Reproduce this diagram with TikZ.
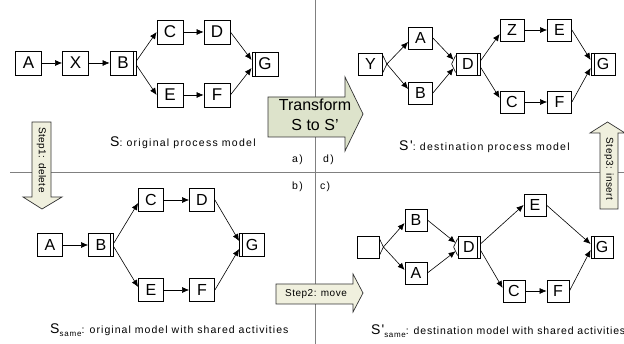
\documentclass[tikz,border=0pt]{standalone}
\usepackage{fontspec}
\setmainfont{Liberation Sans}
\newfontfamily\spacedfont[LetterSpace=12]{Liberation Sans}
\newfontfamily\midspacedfont[LetterSpace=10]{Liberation Sans}
\newfontfamily\tightspacedfont[LetterSpace=8]{Liberation Sans}
\newfontfamily\stepfont[LetterSpace=5]{Liberation Sans}
\usetikzlibrary{arrows.meta,calc}
\definecolor{tfill}{RGB}{221,227,203}
\definecolor{sfill}{RGB}{240,240,222}
\definecolor{sepgray}{RGB}{128,128,128}
\begin{document}
\begin{tikzpicture}[x=1pt,y=-1pt,
  act/.style={draw=black,line width=0.8pt,fill=white,inner sep=0pt,font=\fontsize{16}{16}\selectfont},
  tl/.style={act,minimum width=26pt,minimum height=24pt,font=\fontsize{17}{17}\selectfont},
  tr/.style={act,minimum width=24pt,minimum height=22pt},
  bl/.style={act,minimum width=25pt,minimum height=23pt},
  br/.style={act,minimum width=22pt,minimum height=22pt},
  andsplit/.style={path picture={\draw[line width=0.6pt] ([xshift=-3pt]path picture bounding box.north east) -- ([xshift=-3pt]path picture bounding box.south east);}},
  andjoin/.style={path picture={\draw[line width=0.6pt] ([xshift=3pt]path picture bounding box.north west) -- ([xshift=3pt]path picture bounding box.south west);}},
  conn/.style={-{Latex[length=7pt,width=6pt]},line width=0.6pt},
  chev/.style={line width=0.6pt},
  sep/.style={draw=sepgray,line width=0.8pt},
  bigarrow/.style={draw=black!80,line width=0.7pt},
  lbl/.style={inner sep=0pt,anchor=base west,font=\spacedfont\fontsize{10.5}{12}\selectfont},
  lblmid/.style={lbl,font=\midspacedfont\fontsize{10.5}{12}\selectfont},
  lbltight/.style={lbl,font=\tightspacedfont\fontsize{10.5}{12}\selectfont},
  steptext/.style={inner sep=0pt,font=\stepfont\fontsize{10}{12}\selectfont},
]
\useasboundingbox (0,0) rectangle (624,344);
% separators
\coordinate (vtop) at (315,0);
\coordinate (vbot) at (315,344);
\coordinate (hl) at (10,172);
\coordinate (hr) at (624,172);
\draw[sep] (vtop) -- (vbot);
\draw[sep] (hl) -- (hr);

% big arrows
\filldraw[bigarrow,fill=tfill] (268,97) -- (345,97) -- (345,77) -- (363,114) -- (345,151) -- (345,137) -- (268,137) -- cycle;
\node[inner sep=0pt,align=center,font=\fontsize{16}{20}\selectfont] (tr) at (315,115) {Transform\\S to S'};

\filldraw[bigarrow,fill=sfill] (32,122) -- (51,122) -- (51,197) -- (62,197) -- (42,209) -- (23,197) -- (32,197) -- cycle;
\node[steptext,rotate=-90] (s1) at (41.5,160) {Step1: delete};

\filldraw[bigarrow,fill=sfill] (276,284) -- (353,284) -- (353,274) -- (363,293) -- (353,312) -- (353,304) -- (276,304) -- cycle;
\node[steptext] (s2) at (316,294) {Step2: move};

\filldraw[bigarrow,fill=sfill] (600,209) -- (600,133) -- (590,133) -- (607.5,122) -- (625,133) -- (618,133) -- (618,209) -- cycle;
\node[steptext,rotate=-90] (s3) at (609,169) {Step3: insert};

% quadrant letters
\node[lbl] (la) at (292,163) {a)};
\node[lbl] (ld) at (323,163) {d)};
\node[lbl] (lb) at (292,190) {b)};
\node[lbl] (lc) at (320,190) {c)};

% ---------- top left: S ----------
\node[tl] (tlA) at (28.5,63) {A};
\node[tl] (tlX) at (75.5,63) {X};
\node[tl,andsplit] (tlB) at (123,63) {B};
\node[tl] (tlC) at (170,32) {C};
\node[tl] (tlD) at (217,32) {D};
\node[tl] (tlE) at (170,95) {E};
\node[tl] (tlF) at (217,95) {F};
\node[tl,andjoin] (tlG) at (265,64) {G};
\draw[conn] (tlA.east) -- (tlX.west);
\draw[conn] (tlX.east) -- (tlB.west);
\draw[conn] ([yshift=2pt]tlB.east) -- (tlC.west);
\draw[conn] ([yshift=-2pt]tlB.east) -- (tlE.west);
\draw[conn] (tlC.east) -- (tlD.west);
\draw[conn] (tlE.east) -- (tlF.west);
\draw[conn] (tlD.east) -- ([yshift=4pt]tlG.west);
\draw[conn] (tlF.east) -- ([yshift=-4pt]tlG.west);
\node[lbl] (lblS) at (110,147) {{\fontsize{14}{14}\selectfont S}: original process model};

% ---------- top right: S' ----------
\node[tr] (trY) at (370.5,64) {Y};
\node[tr] (trA) at (420.5,38) {A};
\node[tr] (trB) at (420.5,93) {B};
\node[tr,andsplit] (trD) at (468,64) {D};
\node[tr] (trZ) at (512,30) {Z};
\node[tr] (trE) at (559.5,30) {E};
\node[tr] (trC) at (512,102) {C};
\node[tr] (trF) at (559.5,102) {F};
\node[tr,andjoin] (trG) at (603,64) {G};
\coordinate (trYo) at ([xshift=4pt]trY.east);
\draw[chev] ([yshift=-3pt]trY.north east) -- (trYo) -- ([yshift=3pt]trY.south east);
\coordinate (trDi) at ([xshift=-4pt]trD.west);
\draw[chev] ([yshift=-3pt]trD.north west) -- (trDi) -- ([yshift=3pt]trD.south west);
\coordinate (trDu) at ($(trDi)!0.5!([yshift=-3pt]trD.north west)$);
\coordinate (trDl) at ($(trDi)!0.5!([yshift=3pt]trD.south west)$);
\draw[conn] (trYo) -- ([yshift=-4pt]trA.west);
\draw[conn] (trYo) -- ([yshift=4pt]trB.west);
\draw[conn] (trA.east) -- (trDu);
\draw[conn] (trB.east) -- (trDl);
\draw[conn] ([yshift=3pt]trD.east) -- ([yshift=-4pt]trZ.west);
\draw[conn] ([yshift=-3pt]trD.east) -- ([yshift=4pt]trC.west);
\draw[conn] (trZ.east) -- (trE.west);
\draw[conn] (trC.east) -- (trF.west);
\draw[conn] (trE.east) -- ([yshift=4pt]trG.west);
\draw[conn] (trF.east) -- ([yshift=-4pt]trG.west);
\node[lbl] (lblS2) at (399,151) {{\fontsize{14}{14}\selectfont S'}: destination process model};

% ---------- bottom left: S_same ----------
\node[bl] (blA) at (50,245) {A};
\node[bl,andsplit] (blB) at (101,245) {B};
\node[bl] (blC) at (151,200) {C};
\node[bl] (blD) at (202,200) {D};
\node[bl] (blE) at (151,290) {E};
\node[bl] (blF) at (202,290) {F};
\node[bl,andjoin] (blG) at (252,245) {G};
\draw[conn] (blA.east) -- (blB.west);
\draw[conn] ([yshift=2pt]blB.east) -- ([yshift=-3pt]blC.west);
\draw[conn] ([yshift=-2pt]blB.east) -- ([yshift=3pt]blE.west);
\draw[conn] (blC.east) -- (blD.west);
\draw[conn] (blE.east) -- (blF.west);
\draw[conn] (blD.east) -- ([yshift=4pt]blG.west);
\draw[conn] (blF.east) -- ([yshift=-4pt]blG.west);
\node[lblmid] (lblS3) at (50,334) {{\fontsize{14}{14}\selectfont S}{\fontsize{8}{8}\selectfont\raisebox{-2.5pt}{same}}: original model with shared activities};

% ---------- bottom right: S'_same ----------
\node[br] (brO) at (368,247) {};
\node[br] (brB) at (416,220) {B};
\node[br] (brA) at (416,273) {A};
\node[br,andsplit] (brD) at (469,247) {D};
\node[br] (brE) at (535,205) {E};
\node[br] (brC) at (514,291) {C};
\node[br] (brF) at (558,291) {F};
\node[br,andjoin] (brG) at (602,247) {G};
\coordinate (brOo) at ([xshift=4pt]brO.east);
\draw[chev] ([yshift=-3pt]brO.north east) -- (brOo) -- ([yshift=3pt]brO.south east);
\coordinate (brDi) at ([xshift=-4pt]brD.west);
\draw[chev] ([yshift=-3pt]brD.north west) -- (brDi) -- ([yshift=3pt]brD.south west);
\coordinate (brDu) at ($(brDi)!0.5!([yshift=-3pt]brD.north west)$);
\coordinate (brDl) at ($(brDi)!0.5!([yshift=3pt]brD.south west)$);
\draw[conn] (brOo) -- ([yshift=-3pt]brB.west);
\draw[conn] (brOo) -- ([yshift=3pt]brA.west);
\draw[conn] (brB.east) -- (brDu);
\draw[conn] (brA.east) -- (brDl);
\draw[conn] ([yshift=3pt]brD.east) -- (brE.west);
\draw[conn] ([yshift=-3pt]brD.east) -- ([yshift=3pt]brC.west);
\draw[conn] (brC.east) -- (brF.west);
\draw[conn] (brE.east) -- ([yshift=3pt]brG.west);
\draw[conn] (brF.east) -- ([yshift=-3pt]brG.west);
\node[lbltight] (lblS4) at (371,335) {{\fontsize{14}{14}\selectfont S'}{\fontsize{8}{8}\selectfont\raisebox{-2.5pt}{same}}: destination model with shared activities};
\end{tikzpicture}
\end{document}
